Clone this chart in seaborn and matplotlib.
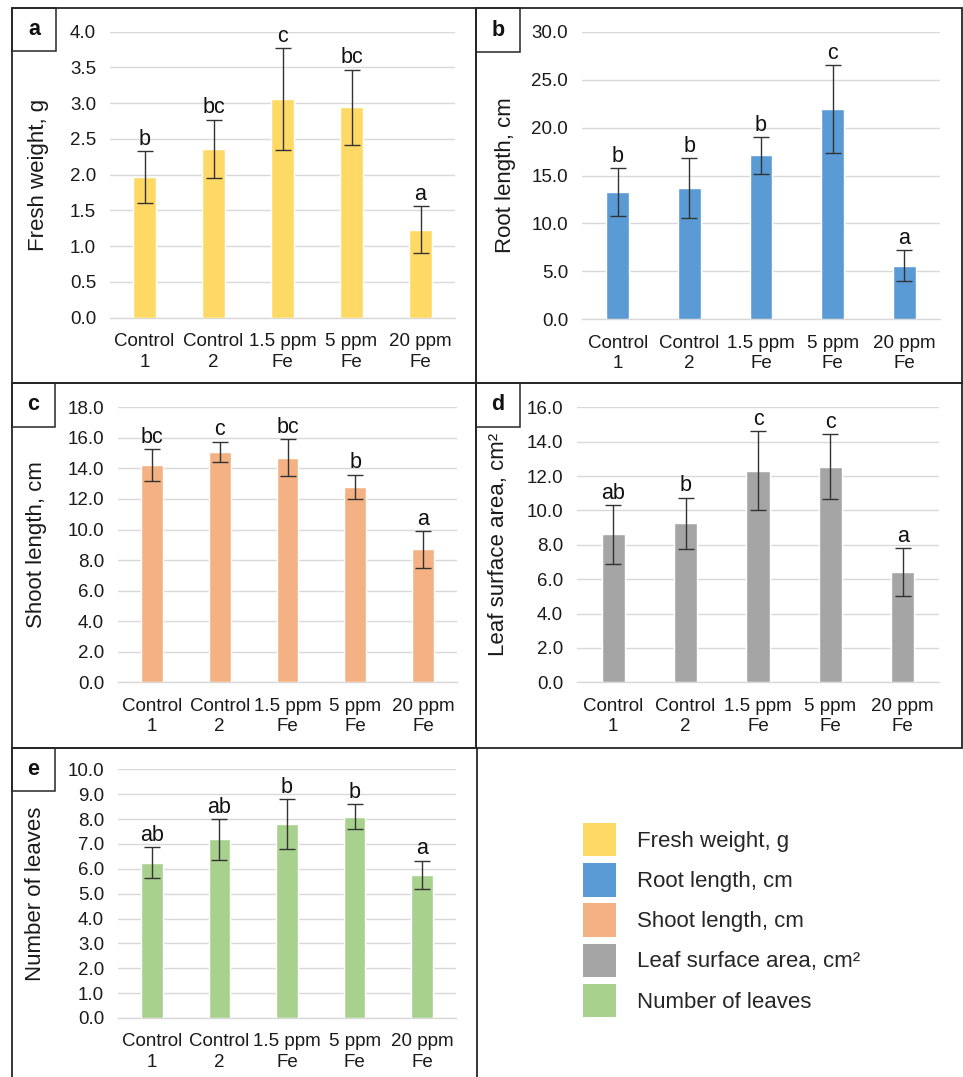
import matplotlib
matplotlib.use("Agg")
import matplotlib.pyplot as plt
from matplotlib.patches import Rectangle, Patch
import numpy as np
import pandas as pd
import seaborn as sns

sns.set_theme(style="white")
plt.rcParams["font.family"] = ["Liberation Sans", "DejaVu Sans"]

# Treatments shared by every panel
treatments = ["Control\n1", "Control\n2", "1.5 ppm\nFe", "5 ppm\nFe", "20 ppm\nFe"]

# (a) fresh weight, g
fresh_mean = [1.97, 2.36, 3.06, 2.94, 1.23]
fresh_sd = [0.36, 0.41, 0.71, 0.53, 0.33]
fresh_letters = ["b", "bc", "c", "bc", "a"]

# (b) root length, cm
root_mean = [13.3, 13.7, 17.1, 21.9, 5.6]
root_sd = [2.5, 3.1, 1.9, 4.6, 1.6]
root_letters = ["b", "b", "b", "c", "a"]

# (c) shoot length, cm
shoot_mean = [14.2, 15.1, 14.7, 12.8, 8.7]
shoot_sd = [1.05, 0.65, 1.2, 0.8, 1.2]
shoot_letters = ["bc", "c", "bc", "b", "a"]

# (d) leaf surface area, cm2
leaf_mean = [8.6, 9.25, 12.3, 12.55, 6.4]
leaf_sd = [1.7, 1.5, 2.3, 1.9, 1.4]
leaf_letters = ["ab", "b", "c", "c", "a"]

# (e) number of leaves
nleaf_mean = [6.25, 7.18, 7.8, 8.1, 5.75]
nleaf_sd = [0.63, 0.83, 1.0, 0.5, 0.58]
nleaf_letters = ["ab", "ab", "b", "b", "a"]

W, H = 963, 1077
fig = plt.figure(figsize=(W / 100, H / 100), dpi=100)
fig.patch.set_facecolor("white")


def frac_rect(x0, y0, x1, y1):
    return [x0 / W, 1 - y1 / H, (x1 - x0) / W, (y1 - y0) / H]


def panel_box(x0, y0, x1, y1, lw=1.3):
    fig.add_artist(Rectangle((x0 / W, 1 - y1 / H), (x1 - x0) / W, (y1 - y0) / H,
                             transform=fig.transFigure, fill=False,
                             edgecolor="#262626", linewidth=lw, zorder=5))


def label_box(x0, y0, x1, y1, letter):
    panel_box(x0, y0, x1, y1, lw=1.1)
    fig.text((x0 + x1) / 2 / W, 1 - (y0 + y1) / 2 / H, letter, ha="center",
             va="center", fontsize=15.5, fontweight="bold", color="#111111")


def draw_panel(rect, means, sds, letters, color, ylabel, ymax, step, label_x):
    ax = fig.add_axes(frac_rect(*rect))
    df = pd.DataFrame({"treatment": treatments, "value": means})
    sns.barplot(data=df, x="treatment", y="value", color=color, width=0.32,
                saturation=1, errorbar=None, ax=ax, zorder=3)
    xs = np.arange(len(means))
    ax.errorbar(xs, means, yerr=sds, fmt="none", ecolor="#333333",
                elinewidth=1.0, capsize=5.5, capthick=1.0, zorder=4)
    for x, m, s, t in zip(xs, means, sds, letters):
        ax.annotate(t, (x, m + s), xytext=(0, 4.5), textcoords="offset points",
                    ha="center", va="baseline", fontsize=15.5, color="#111111",
                    zorder=6)
    ax.set_ylim(0, ymax)
    ax.set_xlim(-0.5, len(means) - 0.5)
    ticks = np.arange(0, ymax + step / 2, step)
    ax.set_yticks(ticks)
    ax.set_yticklabels([f"{t:.1f}" for t in ticks])
    ax.yaxis.grid(True, color="#d9d9d9", linewidth=1.0)
    ax.xaxis.grid(False)
    ax.set_axisbelow(True)
    for side in ["left", "right", "top"]:
        ax.spines[side].set_visible(False)
    ax.spines["bottom"].set_color("#d9d9d9")
    ax.spines["bottom"].set_linewidth(1.0)
    ax.tick_params(axis="both", length=0, labelsize=13.5, colors="#1a1a1a")
    ax.tick_params(axis="y", pad=10)
    ax.tick_params(axis="x", pad=11)
    for lbl in ax.get_xticklabels():
        lbl.set_linespacing(1.3)
    ax.set_xlabel("")
    ax.set_ylabel(ylabel, fontsize=16, color="#1a1a1a", va="center")
    ax.yaxis.set_label_coords(label_x, 0.5)
    ax.set_facecolor("none")
    return ax


# panel frames
panel_box(12, 8, 476, 383)
panel_box(476, 8, 962, 383)
panel_box(12, 383, 476, 748)
panel_box(476, 383, 962, 748)
panel_box(12, 748, 477, 1090)

draw_panel((110, 31.7, 455, 317.7), fresh_mean, fresh_sd, fresh_letters,
           "#FFD966", "Fresh weight, g", 4.0, 0.5, -0.206)
draw_panel((582, 31.7, 940, 319.3), root_mean, root_sd, root_letters,
           "#5B9BD5", "Root length, cm", 30.0, 5.0, -0.215)
draw_panel((118, 407.3, 457, 682.3), shoot_mean, shoot_sd, shoot_letters,
           "#F4B183", "Shoot length, cm", 18.0, 2.0, -0.239)
draw_panel((577, 407.3, 939, 682.3), leaf_mean, leaf_sd, leaf_letters,
           "#A5A5A5", "Leaf surface area, cm²", 16.0, 2.0, -0.218)
draw_panel((118, 769.3, 456, 1018), nleaf_mean, nleaf_sd, nleaf_letters,
           "#A9D18E", "Number of leaves", 10.0, 1.0, -0.243)

label_box(12, 8, 56, 51, "a")
label_box(476, 8, 520, 52, "b")
label_box(12, 383, 55, 427, "c")
label_box(476, 383, 520, 427, "d")
label_box(12, 748, 55, 791, "e")

# shared legend
legend_items = [("Fresh weight, g", "#FFD966"), ("Root length, cm", "#5B9BD5"),
                ("Shoot length, cm", "#F4B183"), ("Leaf surface area, cm²", "#A5A5A5"),
                ("Number of leaves", "#A9D18E")]
handles = [Patch(facecolor=c, edgecolor="none", label=l) for l, c in legend_items]
fig.legend(handles=handles, loc="upper left",
           bbox_to_anchor=(583 / W, 1 - 823 / H), frameon=False,
           fontsize=16, handlelength=1.5, handleheight=1.93,
           handletextpad=0.95, labelspacing=0.31, borderpad=0, borderaxespad=0)

fig.savefig("out.png", dpi=100, facecolor="white")
